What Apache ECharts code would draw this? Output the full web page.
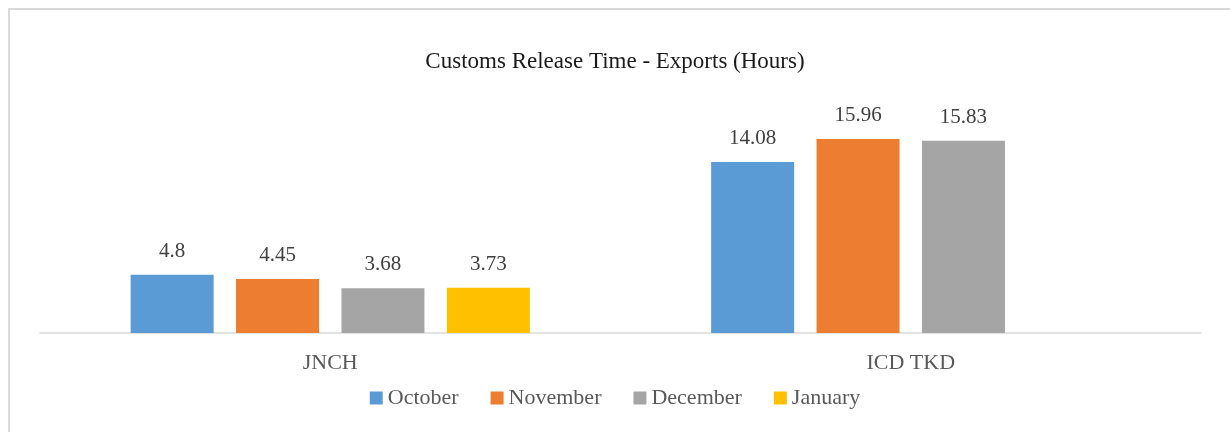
<!DOCTYPE html>
<html>
<head>
<meta charset="utf-8">
<script src="https://cdn.jsdelivr.net/npm/echarts@6/dist/echarts.min.js"></script>
<style>
  html, body { margin: 0; padding: 0; background: #fff; }
  #chart { width: 1230px; height: 432px; }
</style>
</head>
<body>
<div id="chart"></div>
<script>
// categories / series
var categories = ["JNCH", "ICD TKD"];
var months = ["October", "November", "December", "January"];
var october = [4.8, 14.08];
var november = [4.45, 15.96];
var december = [3.68, 15.83];
var january = [3.73, null];
var colors = ["#5b9bd5", "#ed7d31", "#a5a5a5", "#ffc000"];

var font = "'Liberation Serif', 'DejaVu Serif', serif";
var chart = echarts.init(document.getElementById("chart"));

var seriesData = [october, november, december, january];
var series = months.map(function (name, i) {
  return {
    name: name,
    type: "bar",
    data: seriesData[i],
    barWidth: 83,
    barGap: "27%",
    itemStyle: { color: colors[i] },
    label: {
      show: true,
      position: "top",
      distance: 13,
      color: "#404040",
      fontFamily: font,
      fontSize: 21,
    },
  };
});

chart.setOption({
  animation: false,
  title: {
    text: "Customs Release Time - Exports (Hours)",
    left: "center",
    top: 45,
    textStyle: {
      fontFamily: font,
      fontSize: 23,
      fontWeight: "normal",
      color: "#1a1a1a",
    },
  },
  legend: {
    bottom: 18,
    left: "center",
    itemWidth: 13,
    itemHeight: 13,
    itemGap: 32,
    icon: "rect",
    textStyle: { fontFamily: font, fontSize: 22, color: "#595959" },
    data: months,
  },
  grid: { left: 40, right: 29, top: 90, height: 243 },
  xAxis: {
    type: "category",
    data: categories,
    axisTick: { show: false },
    axisLine: { lineStyle: { color: "#d9d9d9", width: 1.5 } },
    axisLabel: { fontFamily: font, fontSize: 22, color: "#595959", margin: 19 },
  },
  yAxis: {
    type: "value",
    min: 0,
    max: 20,
    show: false,
    splitLine: { show: false },
  },
  graphic: [
    {
      type: "rect",
      shape: { x: 9, y: 9, width: 1240, height: 440 },
      style: { fill: "none", stroke: "#d9d9d9", lineWidth: 2 },
      silent: true,
    },
  ],
  series: series,
});
</script>
</body>
</html>
